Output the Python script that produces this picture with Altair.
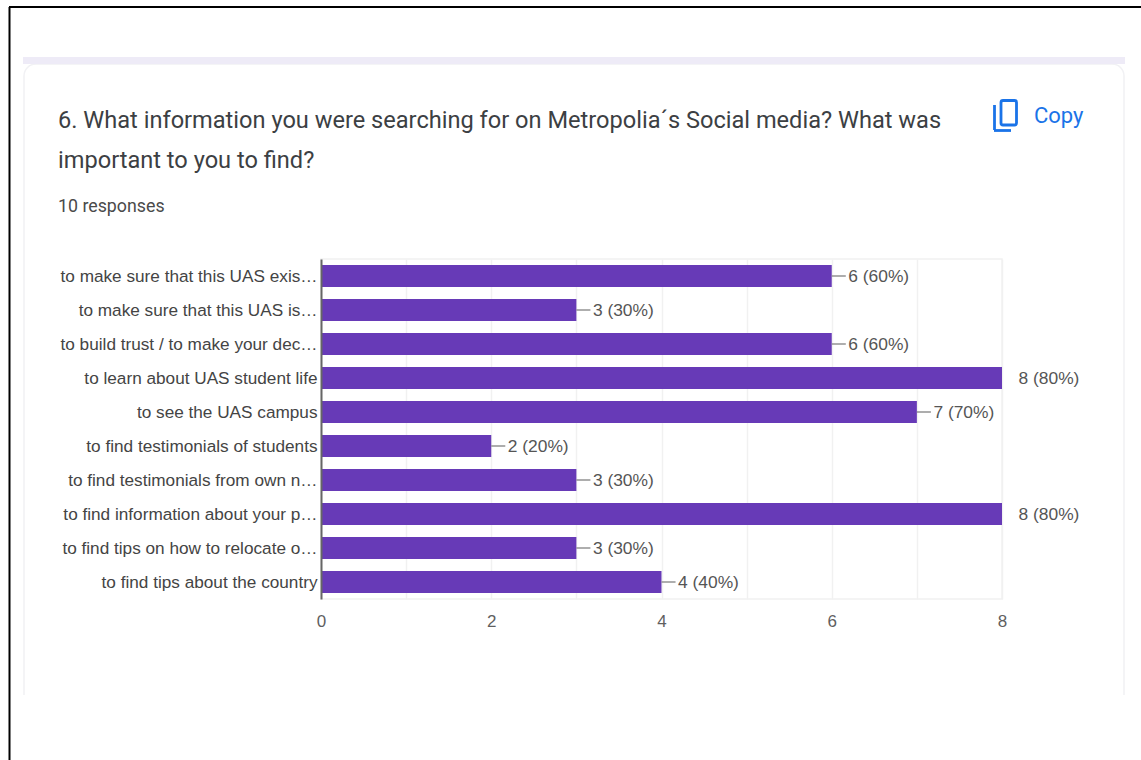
import altair as alt
import pandas as pd

# Survey answers, top to bottom
categories = [
    "to make sure that this UAS exis…",
    "to make sure that this UAS is…",
    "to build trust / to make your dec…",
    "to learn about UAS student life",
    "to see the UAS campus",
    "to find testimonials of students",
    "to find testimonials from own n…",
    "to find information about your p…",
    "to find tips on how to relocate o…",
    "to find tips about the country",
]
counts = [6, 3, 6, 8, 7, 2, 3, 8, 3, 4]
percents = [60, 30, 60, 80, 70, 20, 30, 80, 30, 40]
x_ticks = list(range(0, 9))

question_lines = [
    "6. What information you were searching for on Metropolia´s Social media? What was",
    "important to you to find?",
]
responses_text = "10 responses"
copy_text = "Copy"

PLOT_LEFT, PLOT_TOP = 321, 259
PURPLE = "#673ab7"
BLUE = "#1a73e8"
BORDER = "#f1f1f4"


def px(v):
    return alt.value(v - PLOT_LEFT)


def py(v):
    return alt.value(v - PLOT_TOP)


def box(x0, x1, y0, y1, **mark):
    return alt.Chart().mark_rect(**mark).encode(x=px(x0), x2=px(x1), y=py(y0), y2=py(y1))


def line(x0, x1, y0, y1, color, width):
    return alt.Chart().mark_rule(color=color, strokeWidth=width).encode(
        x=px(x0), x2=px(x1), y=py(y0), y2=py(y1)
    )


def label(x, y, text, size, color, align="left"):
    return alt.Chart().mark_text(
        font="Roboto", fontSize=size, color=color, align=align, baseline="alphabetic"
    ).encode(x=px(x), y=py(y), text=alt.value(text))


table = pd.DataFrame(
    {
        "answer": categories,
        "count": counts,
        "tag": [f"{c} ({p}%)" for c, p in zip(counts, percents)],
    }
)

y_enc = alt.Y(
    "answer:N",
    sort=categories,
    title=None,
    scale=alt.Scale(paddingInner=0.36, paddingOuter=0.18),
    axis=alt.Axis(
        domainColor="#666666",
        domainWidth=2,
        ticks=False,
        labelFont="Liberation Sans",
        labelFontSize=17.2,
        labelColor="#444444",
        labelPadding=4,
        labelLimit=300,
        labelOffset=1,
        grid=False,
        zindex=1,
    ),
)
x_enc = alt.X(
    "count:Q",
    title=None,
    scale=alt.Scale(domain=[0, 8], nice=False),
    axis=alt.Axis(
        values=x_ticks,
        format="d",
        labelExpr="datum.value % 2 ? '' : datum.label",
        domain=False,
        ticks=False,
        gridColor="#f1f1f1",
        gridWidth=1.5,
        labelFont="Liberation Sans",
        labelFontSize=17,
        labelColor="#5f5f5f",
        labelPadding=14,
        labelFlush=False,
    ),
)

base = alt.Chart(table)
bars = base.mark_bar(color=PURPLE).encode(x=x_enc, y=y_enc)
leaders = (
    base.transform_filter("datum.count < 8")
    .transform_calculate(lead="datum.count + 0.165")
    .mark_rule(color="#777777", strokeWidth=1.2)
    .encode(x="count:Q", x2="lead:Q", y=alt.Y("answer:N", sort=categories))
)
tags = base.mark_text(
    align="left",
    dx=16.5,
    dy=1,
    font="Liberation Sans",
    fontSize=17.4,
    color="#555555",
).encode(x="count:Q", y=alt.Y("answer:N", sort=categories), text="tag:N")

decor = [
    # card outline with a white strip hiding its lower edge
    box(24, 1124, 64, 730, fill="#ffffff", fillOpacity=0, stroke=BORDER, strokeWidth=1.5, cornerRadius=12),
    box(18, 1130, 695, 740, fill="#ffffff"),
    box(23, 1125, 57, 64, fill="#eeebf7"),
    # outer frame
    line(9.5, 9.5, 7, 760, "#000000", 2),
    line(9, 1141, 7, 7, "#000000", 2),
    # heading block
    label(58, 128, question_lines[0], 23.6, "#3c4043"),
    label(58, 168, question_lines[1], 23.6, "#3c4043"),
    label(58, 212, responses_text, 17.8, "#4a4a4a"),
    label(1034, 123, copy_text, 22, BLUE),
    # copy icon
    box(1001, 1016.5, 100.5, 125, fill="#ffffff", fillOpacity=0, stroke=BLUE, strokeWidth=2.8, cornerRadius=2),
    line(994.5, 994.5, 105, 130, BLUE, 2.8),
    line(994, 1011, 130.5, 130.5, BLUE, 2.8),
]

chart = (
    alt.layer(*decor, bars, leaders, tags)
    .properties(
        width=681,
        height=340,
        autosize="none",
        padding={"left": PLOT_LEFT, "top": PLOT_TOP, "right": 139, "bottom": 161},
        background="#ffffff",
    )
    .configure_view(stroke="#f1f1f1", strokeWidth=1.5)
)

chart.save("out.html", embed_options={"renderer": "svg", "actions": False})
